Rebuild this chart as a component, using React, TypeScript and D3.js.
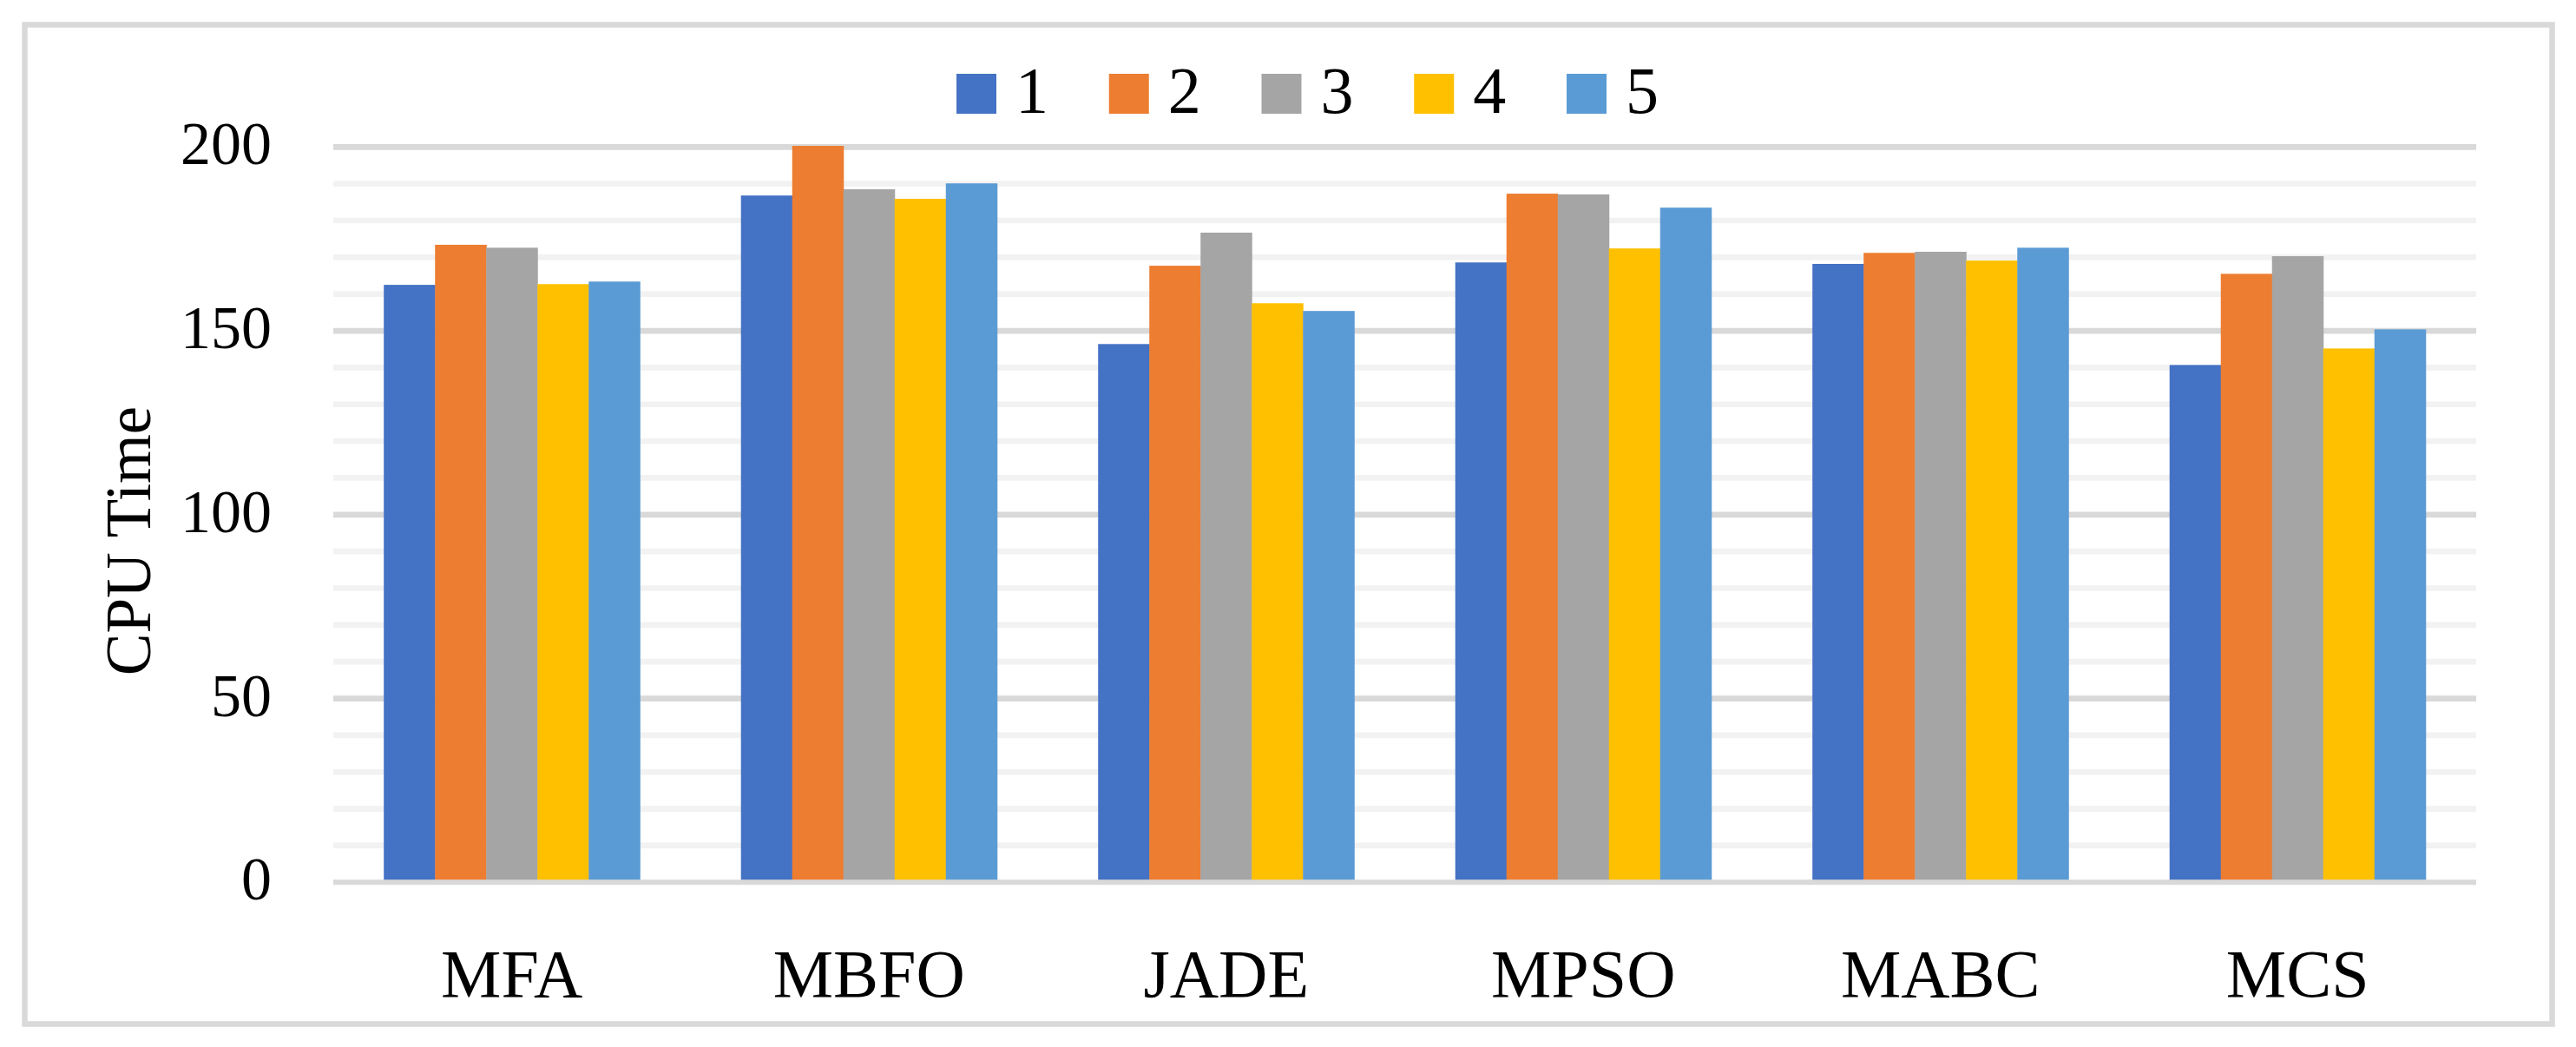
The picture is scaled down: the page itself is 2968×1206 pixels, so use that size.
import React from 'react';
import * as d3 from 'd3';

// chart data
const categories = ['MFA', 'MBFO', 'JADE', 'MPSO', 'MABC', 'MCS'];
const seriesNames = ['1', '2', '3', '4', '5'];
const series1 = [162.5, 186.8, 146.4, 168.6, 168.2, 140.7];
const series2 = [173.4, 200.3, 167.7, 187.3, 171.2, 165.5];
const series3 = [172.6, 188.5, 176.7, 187.1, 171.5, 170.3];
const series4 = [162.7, 185.9, 157.5, 172.4, 169.1, 145.2];
const series5 = [163.4, 190.1, 155.4, 183.5, 172.6, 150.4];
const majorTicks = [0, 50, 100, 150, 200];
const minorTicks = d3.range(0, 201, 10);

const colors = ['#4472C4', '#ED7D31', '#A5A5A5', '#FFC000', '#5B9BD5'];

const W = 2968;
const H = 1206;
const FONT = "'Liberation Serif', 'Times New Roman', serif";

const App: React.FC = () => {
  const allSeries = [series1, series2, series3, series4, series5];

  const plot = { left: 384, right: 2853, top: 169.3, bottom: 1016.3 };

  const x = d3.scaleBand<string>()
    .domain(categories)
    .range([plot.left, plot.right])
    .paddingInner(0.283)
    .paddingOuter(0.1415);

  const xs = d3.scaleBand<string>()
    .domain(seriesNames)
    .range([0, x.bandwidth()]);

  const y = d3.scaleLinear()
    .domain([0, 200])
    .range([plot.bottom, plot.top]);

  const legendX = d3.scalePoint<string>()
    .domain(seriesNames)
    .range([1102, 1805]);

  return (
    <div style={{ position: 'absolute', left: 0, top: 0 }}>
      <svg width={W} height={H} style={{ display: 'block', background: '#fff' }}>
        <rect x={0} y={0} width={W} height={H} fill="#fff" />
        {/* chart frame */}
        <rect x={28.5} y={28.5} width={2912} height={1151} fill="none" stroke="#d9d9d9" strokeWidth={6.5} />

        {/* gridlines */}
        {minorTicks.filter(t => t % 50 !== 0).map(t => (
          <line key={'mi' + t} x1={plot.left} x2={plot.right} y1={y(t)} y2={y(t)} stroke="#f2f2f2" strokeWidth={6.7} />
        ))}
        {majorTicks.filter(t => t !== 0).map(t => (
          <line key={'ma' + t} x1={plot.left} x2={plot.right} y1={y(t)} y2={y(t)} stroke="#d9d9d9" strokeWidth={6.7} />
        ))}

        {/* bars */}
        {categories.map((c, ci) => (
          <g key={c} transform={`translate(${x(c)},0)`}>
            {allSeries.map((s, si) => (
              <rect
                key={si}
                x={xs(seriesNames[si])}
                y={y(s[ci])}
                width={xs.bandwidth() + 0.5}
                height={y(0) - y(s[ci])}
                fill={colors[si]}
              />
            ))}
          </g>
        ))}

        {/* baseline */}
        <line x1={plot.left} x2={plot.right} y1={y(0)} y2={y(0)} stroke="#d9d9d9" strokeWidth={6} />

        {/* y tick labels */}
        {majorTicks.map(t => (
          <text key={'yl' + t} x={313} y={y(t) + 20} textAnchor="end" fontFamily={FONT} fontSize={70} fill="#000">
            {t}
          </text>
        ))}

        {/* category labels */}
        {categories.map(c => (
          <text key={'xl' + c} x={(x(c) as number) + x.bandwidth() / 2} y={1148} textAnchor="middle" fontFamily={FONT} fontSize={78} fill="#000">
            {c}
          </text>
        ))}

        {/* axis title */}
        <text transform="translate(173,623) rotate(-90)" textAnchor="middle" fontFamily={FONT} fontSize={73} fill="#000">
          CPU Time
        </text>

        {/* legend */}
        {seriesNames.map((n, i) => (
          <g key={'lg' + n} transform={`translate(${legendX(n)},0)`}>
            <rect x={0} y={85} width={46} height={46} fill={colors[i]} />
            <text x={68} y={130} fontFamily={FONT} fontSize={76} fill="#000">{n}</text>
          </g>
        ))}
      </svg>
    </div>
  );
};

export default App;
